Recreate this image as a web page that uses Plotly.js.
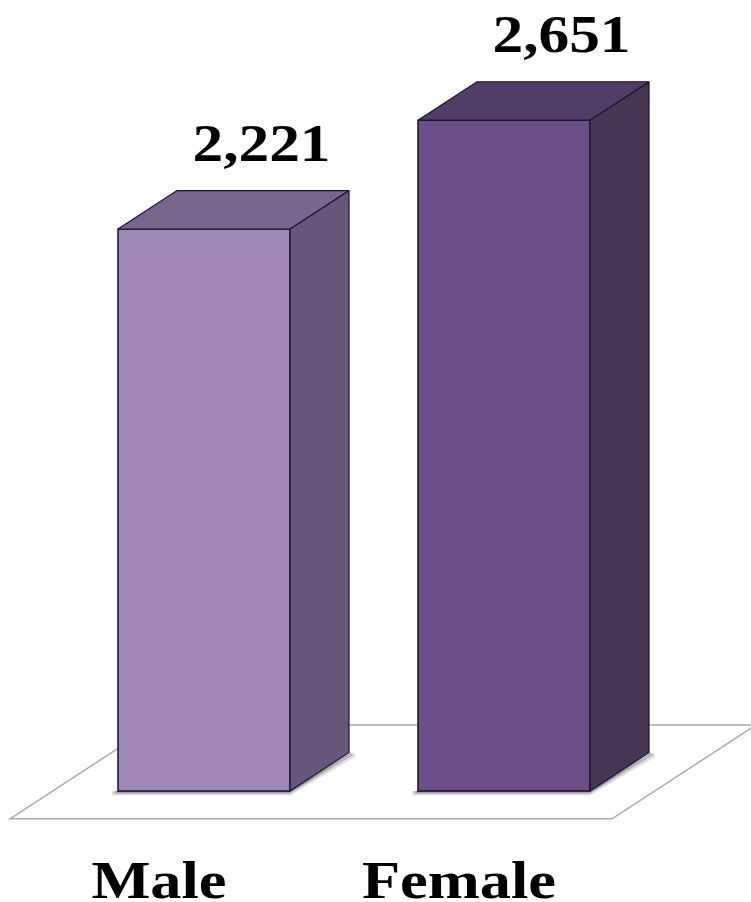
<!DOCTYPE html>
<html>
<head>
<meta charset="utf-8">
<script src="https://cdn.plot.ly/plotly-3.0.1.min.js"></script>
<style>html,body{margin:0;padding:0;background:#fff;}</style>
</head>
<body>
<div id="chart" style="width:751px;height:902px;"></div>
<script>
const categories = ["Male", "Female"];
const values = [2221, 2651];
const valueLabels = ["2,221", "2,651"];
const frontColors = ["#A088B6", "#6A5087"];
const sideColors = ["#67567A", "#463553"];
const topColors = ["#7A658F", "#523C68"];

const edge = "#1A1230";
const positions = categories.map((_, i) => i);
const barWidth = 0.5733;
const depthX = 0.1967;
const depthY = 152;
const half = barWidth / 2;

const traces = [];
traces.push({
  type: "bar", x: positions, y: values, width: barWidth,
  marker: {color: frontColors, line: {color: edge, width: 1.5}},
  hoverinfo: "skip", showlegend: false
});
positions.forEach((p, i) => {
  const v = values[i], l = p - half, r = p + half;
  traces.push({
    type: "scatter", mode: "lines", fill: "toself", fillcolor: sideColors[i],
    x: [r, r + depthX, r + depthX, r, r],
    y: [0, depthY, v + depthY, v, 0],
    line: {color: edge, width: 1.2}, hoverinfo: "skip", showlegend: false
  });
  traces.push({
    type: "scatter", mode: "lines", fill: "toself", fillcolor: topColors[i],
    x: [l, l + depthX, r + depthX, r, l],
    y: [v, v + depthY, v + depthY, v, v],
    line: {color: edge, width: 1.2}, hoverinfo: "skip", showlegend: false
  });
});

const floorFL = -0.6467, floorFR = 1.36, floorShift = 0.48, floorFront = -110, floorBack = 261;
const shapes = [{
  type: "path", layer: "below", xref: "x", yref: "y",
  path: `M ${floorFL} ${floorFront} L ${floorFL + floorShift} ${floorBack} L ${floorFR + floorShift} ${floorBack} L ${floorFR} ${floorFront} Z`,
  fillcolor: "#ffffff", line: {color: "#ABABAB", width: 1.5}
}];
// soft contact shadow round the foot of each bar
positions.forEach(p => {
  [[0.02, 18, 0.12], [0.012, 11, 0.2], [0.006, 5, 0.35]].forEach(([gx, gy, op]) => {
    const l = p - half - gx, r = p + half, d = depthX + gx;
    shapes.push({
      type: "path", layer: "below", xref: "x", yref: "y",
      path: `M ${l} ${-gy} L ${r} ${-gy} L ${r + d} ${depthY - gy} L ${r + d} ${depthY} L ${r} 0 L ${l} 0 Z`,
      fillcolor: "#000000", opacity: op, line: {width: 0}
    });
  });
});

const font = {family: '"Liberation Serif", "Times New Roman", serif', color: "#000000"};
const annotations = positions.map((p, i) => ({
  x: p + 0.19, y: values[i] + 222, xref: "x", yref: "y", xanchor: "center", yanchor: "bottom",
  text: valueLabels[i], showarrow: false, borderpad: 0,
  font: Object.assign({}, font, {size: 52, weight: 700})
}));

const layout = {
  width: 751, height: 902,
  margin: {l: 0, r: 0, t: 0, b: 57, pad: 0},
  paper_bgcolor: "#ffffff", plot_bgcolor: "#ffffff",
  showlegend: false,
  xaxis: {
    range: [-0.68, 1.8233], showgrid: false, zeroline: false, showline: false,
    tickmode: "array", tickvals: positions.map(p => p - 0.15), ticktext: categories,
    ticks: "", tickangle: 0, automargin: false,
    tickfont: Object.assign({}, font, {size: 52, weight: 700})
  },
  yaxis: {range: [-213.4, 3126], visible: false, fixedrange: true},
  shapes: shapes,
  annotations: annotations
};

const gd = document.getElementById("chart");
function stretch(el, k) {
  if (el.getAttribute("textLength")) return;
  const w = el.getComputedTextLength();
  el.setAttribute("textLength", (w * k).toFixed(1));
  el.setAttribute("lengthAdjust", "spacingAndGlyphs");
}
Plotly.newPlot(gd, traces, layout, {displayModeBar: false}).then(() => {
  gd.querySelectorAll(".annotation-text").forEach(t => stretch(t, 1.18));
  gd.querySelectorAll(".xtick text").forEach(t => stretch(t, 1.2));
});
</script>
</body>
</html>
